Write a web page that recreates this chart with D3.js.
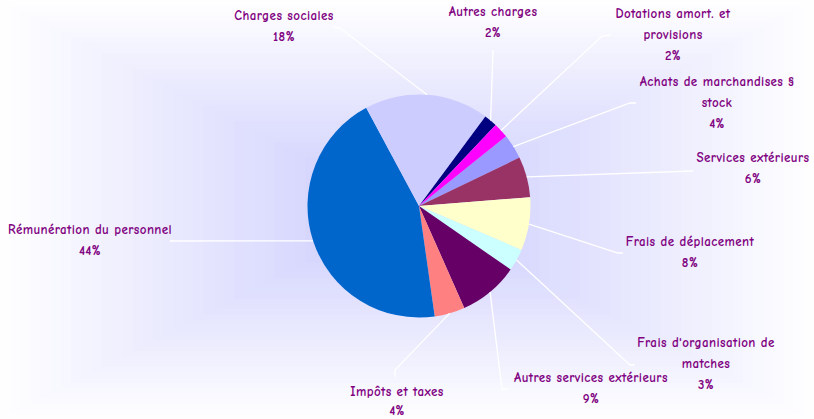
<!DOCTYPE html>
<html lang="fr">
<head>
    <meta charset="UTF-8">
    <title>Répartition des charges</title>
    <script src="https://d3js.org/d3.v7.min.js"></script>
    <style>
        body { margin: 0; background: #fff; }
        text { font-family: "Comic Sans MS", "Comic Neue", Lato, sans-serif; font-weight: 900; font-size: 13px; letter-spacing: 0.4px; fill: #800080; }
    </style>
</head>
<body>
    <svg width="814" height="419"></svg>
    <script>
        // data, in Excel series order (first slice = Achats)
        const categories = [
            "Achats de marchandises § stock", "Services extérieurs", "Frais de déplacement",
            "Frais d'organisation de matches", "Autres services extérieurs", "Impôts et taxes",
            "Rémunération du personnel", "Charges sociales", "Autres charges", "Dotations amort. et provisions"
        ];
        const values = [3.6, 5.9, 7.7, 3.2, 8.7, 4.4, 44.4, 18.0, 1.9, 2.2];
        const colors = ["#9999FF", "#993366", "#FFFFCC", "#CCFFFF", "#660066", "#FF8080", "#0066CC", "#CCCCFF", "#000080", "#FF00FF"];
        const percentLabels = ["4%", "6%", "8%", "3%", "9%", "4%", "44%", "18%", "2%", "2%"];
        const labelLines = [
            ["Achats de marchandises §", "stock"], ["Services extérieurs"], ["Frais de déplacement"],
            ["Frais d'organisation de", "matches"], ["Autres services extérieurs"], ["Impôts et taxes"],
            ["Rémunération du personnel"], ["Charges sociales"], ["Autres charges"], ["Dotations amort. et", "provisions"]
        ];

        // layout of the hand-placed labels: text centre (x, first line y) and leader path end
        const labelLayout = [
            { x: 717, y: 82,  path: [[630, 103], [636, 103]] },
            { x: 753, y: 158, path: [[693, 171]] },
            { x: 690, y: 242, path: [[618, 253], [623, 253]] },
            { x: 706, y: 343, path: [[630, 365], [635, 365]] },
            { x: 591, y: 378, path: [[502, 389], [508, 389]] },
            { x: 397, y: 392, path: [[395, 370], [395, 377]] },
            { x: 90,  y: 230, path: [[170, 241]] },
            { x: 284, y: 16,  path: [[340, 28], [333, 27]] },
            { x: 493, y: 12,  path: [[493, 50]] },
            { x: 673, y: 14,  path: [[602, 36], [610, 35]] }
        ];

        const W = 814, H = 419;
        const cx = 419, cy = 206, radius = 111.5;
        const startAngle = 51.3 * Math.PI / 180;

        const svg = d3.select("svg");

        // Excel style "from centre" rectangular gradient, drawn as nested bands
        const bands = 40;
        const bgColor = d3.interpolateRgb("#ffffff", "#cbcbfd");
        const bg = svg.append("g");
        for (let i = 0; i < bands; i++) {
            const t = i / bands;
            const w = W * (1 - t), h = H * (1 - t);
            bg.append("rect")
                .attr("x", 407 - w / 2).attr("y", 210 - h / 2)
                .attr("width", w).attr("height", h)
                .attr("fill", bgColor(t + 0.5 / bands));
        }

        const pie = d3.pie().sort(null).value(d => d)
            .startAngle(startAngle).endAngle(startAngle + 2 * Math.PI);
        const arc = d3.arc().innerRadius(0).outerRadius(radius);
        const arcs = pie(values);

        const g = svg.append("g").attr("transform", `translate(${cx},${cy})`);
        g.selectAll("path.slice")
            .data(arcs)
            .join("path")
            .attr("class", "slice")
            .attr("d", arc)
            .attr("fill", (d, i) => colors[i]);

        // leader lines from the middle of each slice edge
        const line = d3.line();
        arcs.forEach((d, i) => {
            const a = (d.startAngle + d.endAngle) / 2;
            const edge = [cx + radius * Math.sin(a), cy - radius * Math.cos(a)];
            svg.append("path")
                .attr("d", line([edge, ...labelLayout[i].path]))
                .attr("fill", "none")
                .attr("stroke", "#ffffff")
                .attr("stroke-width", 1.3);
        });

        // labels
        categories.forEach((c, i) => {
            const lay = labelLayout[i];
            const lines = labelLines[i].concat([percentLabels[i]]);
            const t = svg.append("text").attr("text-anchor", "middle");
            const gap = i === 5 ? 19 : 21;
            lines.forEach((s, k) => {
                t.append("tspan")
                    .attr("x", lay.x)
                    .attr("y", lay.y + 4 + k * gap)
                    .text(s);
            });
        });
    </script>
</body>
</html>
